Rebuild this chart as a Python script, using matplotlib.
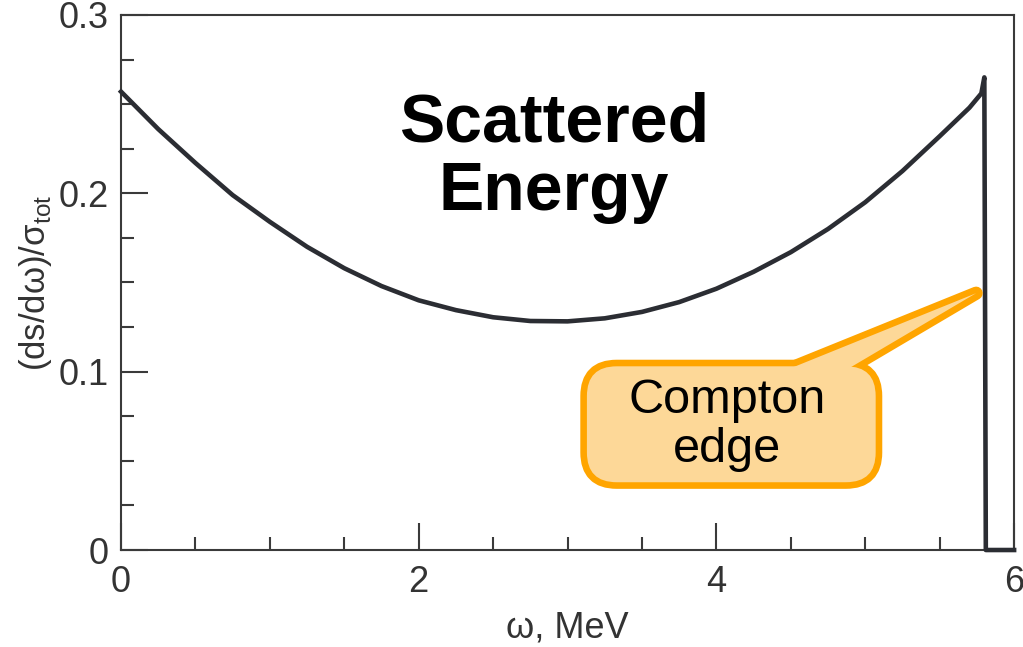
import numpy as np
import matplotlib.pyplot as plt
from matplotlib.patches import FancyBboxPatch, Polygon
from matplotlib.ticker import MultipleLocator

plt.rcParams['font.family'] = ['Liberation Sans', 'DejaVu Sans']

# scattered photon energy spectrum (Klein-Nishina shape), cut at the Compton edge
omega = [0.0, 0.25, 0.5, 0.75, 1.0, 1.25, 1.5, 1.75, 2.0, 2.25, 2.5, 2.75,
         3.0, 3.25, 3.5, 3.75, 4.0, 4.25, 4.5, 4.75, 5.0, 5.25, 5.5, 5.7,
         5.78, 5.80, 5.81, 6.0]
dsdw = [0.257, 0.236, 0.217, 0.199, 0.184, 0.170, 0.158, 0.148, 0.140, 0.1345, 0.1305, 0.1284,
        0.1282, 0.1299, 0.1335, 0.139, 0.1465, 0.156, 0.167, 0.180, 0.195, 0.2125, 0.232, 0.248,
        0.256, 0.265, 0.0, 0.0]

edge_x = 5.745      # where the callout points
edge_y = 0.144

xticks = [0, 2, 4, 6]
xticklabels = ['0', '2', '4', '6']
yticks = [0, 0.1, 0.2, 0.3]
yticklabels = ['0', '0.1', '0.2', '0.3']

dark = '#2b2d33'
axis_col = '#3a3a3a'
orange = '#FFA500'
light_orange = '#FDD898'

fig = plt.figure(figsize=(10.23, 6.47), dpi=100)
ax = fig.add_axes([0.1183, 0.1499, 0.873, 0.827])

ax.plot(omega, dsdw, color=dark, lw=3.3, solid_joinstyle='round', clip_on=False, zorder=3)

ax.set_xlim(0, 6)
ax.set_ylim(0, 0.3)
ax.set_xticks(xticks)
ax.set_xticklabels(xticklabels)
ax.set_yticks(yticks)
ax.set_yticklabels(yticklabels)
ax.xaxis.set_minor_locator(MultipleLocator(0.5))
ax.yaxis.set_minor_locator(MultipleLocator(0.025))
ax.tick_params(which='both', direction='in', width=1.5, color=axis_col,
               labelcolor='#333333', labelsize=26, top=False, right=False)
ax.tick_params(which='major', length=19.5)
ax.tick_params(which='minor', length=9.5)
ax.tick_params(axis='y', pad=9)
ax.tick_params(axis='x', pad=11)
for s in ax.spines.values():
    s.set_color(axis_col)
    s.set_linewidth(1.5)

ax.set_xlabel('ω, MeV', fontsize=26, color='#333333')
ax.set_ylabel('(ds/dω)/σ$_\\mathregular{tot}$', fontsize=25, color='#333333')
ax.xaxis.set_label_coords(0.5, -0.146)
ax.yaxis.set_label_coords(-0.096, 0.5)
ax.xaxis.label.set_va('center')
ax.yaxis.label.set_va('center')

ax.text(2.91, 0.22, 'Scattered\nEnergy', ha='center', va='center', fontsize=49,
        fontweight='bold', linespacing=1.08, color='black')

# callout: orange outline drawn under a borderless fill so the joins disappear
px_x = ax.bbox.width / 6.0
px_y = ax.bbox.height / 0.3
aspect = px_x / px_y
box_x0, box_x1 = 3.13, 5.07
box_y0, box_y1 = 0.038, 0.103
wedge = [(4.235, box_y1 - 0.01), (edge_x, edge_y), (4.71, box_y1 - 0.01)]
for fc, ec, lw, z in [(orange, orange, 9.5, 4), (light_orange, 'none', 0, 5)]:
    box = FancyBboxPatch((box_x0, box_y0), box_x1 - box_x0, box_y1 - box_y0,
                         boxstyle='round,pad=0,rounding_size=0.2',
                         mutation_aspect=aspect, fc=fc, ec=ec, lw=lw,
                         joinstyle='round', zorder=z, clip_on=False)
    ax.add_patch(box)
    tri = Polygon(wedge, closed=True, fc=fc, ec=ec, lw=lw, joinstyle='round',
                  zorder=z, clip_on=False)
    ax.add_patch(tri)

ax.text(4.074, 0.0701, 'Compton\nedge', ha='center', va='center', fontsize=35,
        linespacing=1.1, color='black', zorder=6)

fig.savefig('out.png', dpi=100)
